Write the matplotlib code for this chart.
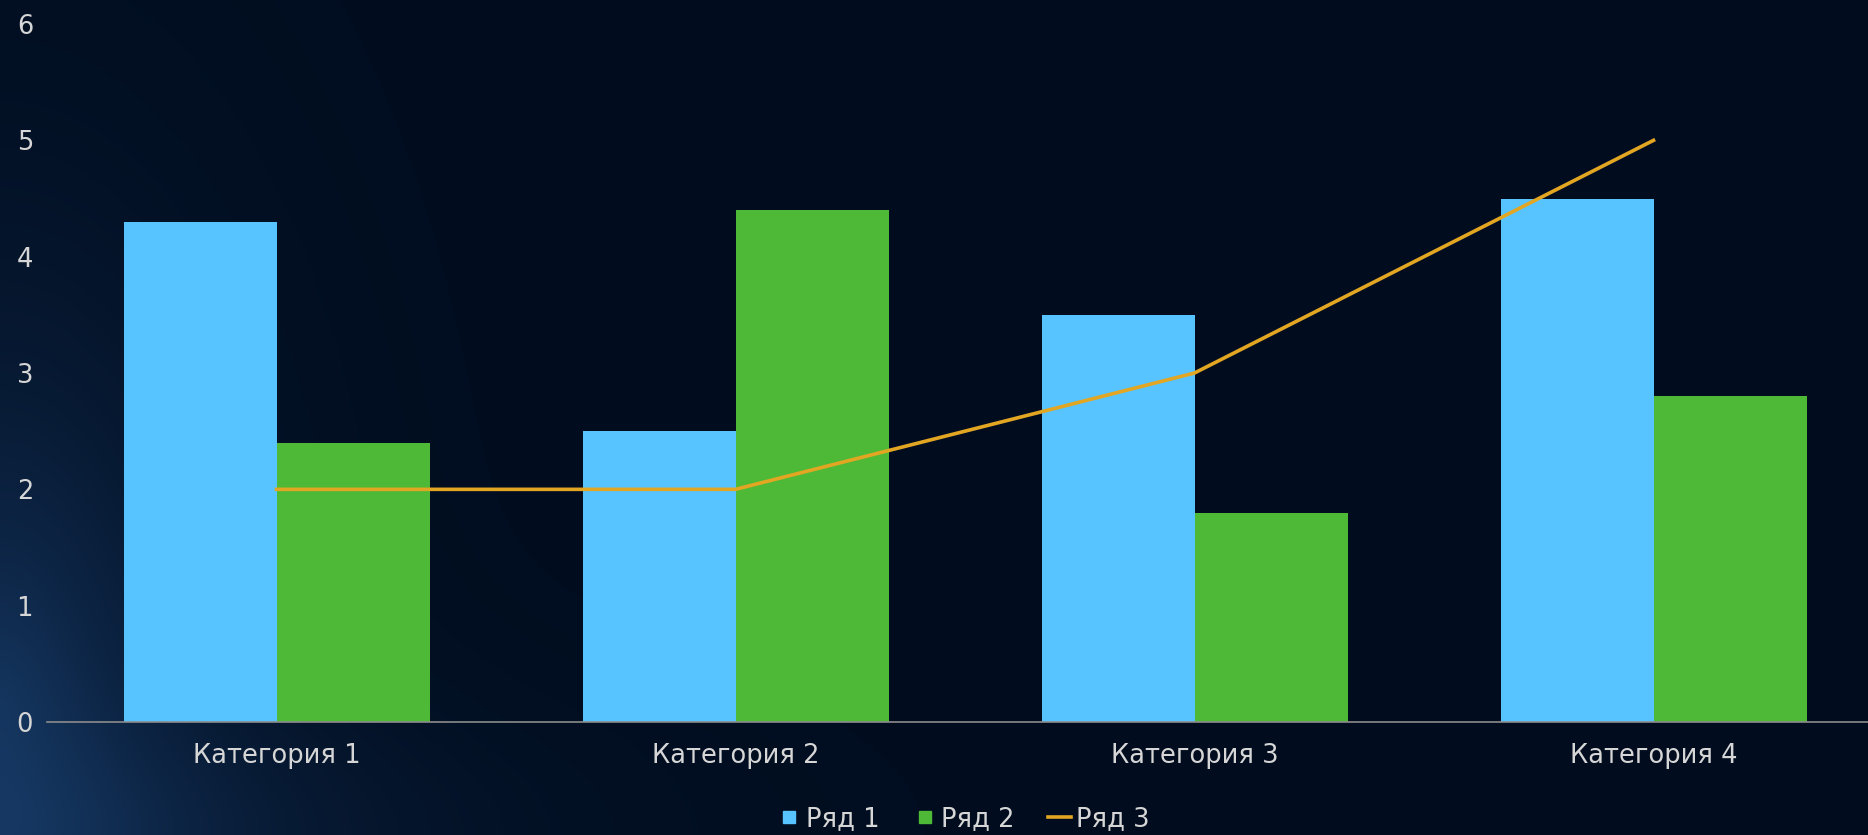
import numpy as np
import matplotlib.pyplot as plt
from matplotlib.lines import Line2D

categories = ['Категория 1', 'Категория 2', 'Категория 3', 'Категория 4']
ryad1 = [4.3, 2.5, 3.5, 4.5]
ryad2 = [2.4, 4.4, 1.8, 2.8]
ryad3 = [2, 2, 3, 5]
names = ['Ряд 1', 'Ряд 2', 'Ряд 3']
yticks = [0, 1, 2, 3, 4, 5, 6]

c1 = '#57C4FF'
c2 = '#4DB937'
c3 = '#E2A623'
txt = '#D6D6D6'

W, H = 1868, 835
fig = plt.figure(figsize=(W / 100, H / 100), dpi=100)

# dark navy background, soft blue glow along the lower-left edge
bg = fig.add_axes([0, 0, 1, 1])
yy, xx = np.mgrid[0:H, 0:W]
d = np.hypot(xx / 170.0, (yy - 700) / 330.0)
t = np.exp(-d ** 1.3) * 0.75
d2 = np.hypot(xx / 420.0, (H - yy) / 120.0)
t = np.clip(t + np.exp(-d2 ** 1.5) * 0.35, 0, 1)
base = np.array([1, 13, 31]) / 255.0
glow = np.array([24, 60, 105]) / 255.0
img = base[None, None, :] * (1 - t[..., None]) + glow[None, None, :] * t[..., None]
bg.imshow(np.clip(img, 0, 1), aspect='auto', extent=[0, 1, 0, 1], origin='upper')
bg.axis('off')

ax = fig.add_axes([47 / W, 113 / H, 1836 / W, 698 / H])
ax.set_facecolor('none')

x = np.arange(len(categories))
w = 1 / 3
ax.bar(x - w / 2, ryad1, width=w, color=c1, zorder=2)
ax.bar(x + w / 2, ryad2, width=w, color=c2, zorder=2)
ax.plot(x, ryad3, color=c3, linewidth=2.6, zorder=3)

ax.set_xlim(-0.5, 3.5)
ax.set_ylim(0, 6)
ax.set_yticks(yticks)
ax.set_xticks(x)
ax.set_xticklabels(categories)
ax.tick_params(axis='both', length=0, colors=txt, labelsize=18.5)
ax.tick_params(axis='y', pad=10)
ax.tick_params(axis='x', pad=15)
for s in ['top', 'right', 'left']:
    ax.spines[s].set_visible(False)
ax.spines['bottom'].set_color('#8C8C8C')
ax.spines['bottom'].set_linewidth(1.2)

handles = [
    Line2D([], [], marker='s', linestyle='none', color=c1, markersize=9),
    Line2D([], [], marker='s', linestyle='none', color=c2, markersize=9),
    Line2D([], [], color=c3, linewidth=2.6),
]
fig.legend(handles, names, loc='center', bbox_to_anchor=(0.516, 0.019), ncol=3,
           frameon=False, fontsize=18.5, labelcolor=txt, handlelength=0.9,
           handletextpad=0.2, columnspacing=1.3)

fig.savefig('out.png', dpi=100)
